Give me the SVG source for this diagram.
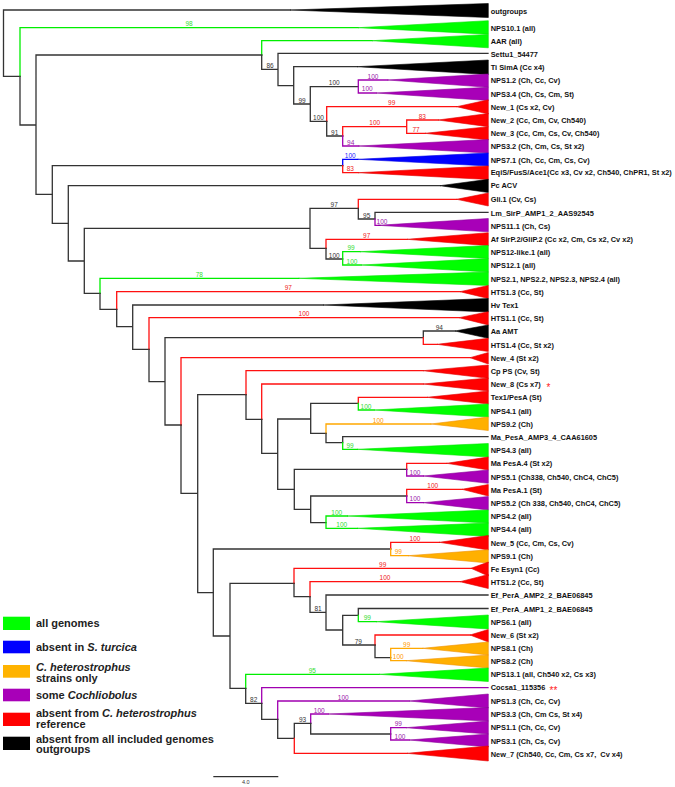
<svg xmlns="http://www.w3.org/2000/svg" width="675" height="787" viewBox="0 0 675 787">
<style>
.b{fill:none;stroke-width:1.3;stroke-linecap:square}
.k{stroke:#333}.g{stroke:#00ee00}.r{stroke:#ff1010}.p{stroke:#a000b0}.o{stroke:#ffa800}.u{stroke:#0000ff}
.tk{fill:#000;stroke:#000;stroke-width:0.6}.tg{fill:#00ff00;stroke:#00e000;stroke-width:0.6}.tr{fill:#ff0000;stroke:#e00000;stroke-width:0.6}.tp{fill:#a800b8;stroke:#8a0098;stroke-width:0.6}.to{fill:#ffb000;stroke:#f09000;stroke-width:0.6}.tu{fill:#0000ff;stroke:#0000e0;stroke-width:0.6}
.lf{font-family:"Liberation Sans",Arial,sans-serif;font-weight:bold;font-size:7.4px;fill:#111}
.bs{font-family:"Liberation Sans",Arial,sans-serif;font-size:6.5px;text-anchor:middle}
.sk{fill:#333}.sg{fill:#33dd33}.sr{fill:#ee2222}.sp{fill:#9922aa}.so{fill:#ff9900}.su{fill:#2222ff}
.lg{font-family:"Liberation Sans",Arial,sans-serif;font-weight:bold;font-size:11px;fill:#222}
</style>
<rect width="675" height="787" fill="#fff"/>
<g id="connectors">
<path class="b k" d="M3.5 43V10H290M3.5 43V76.3H20"/>
<path class="b g" d="M20 76.3V27.7H358"/>
<path class="b k" d="M20 76.3V125H36M36 125V55H261.7M36 125V194.3H52.3"/>
<path class="b g" d="M261.7 55V40.7H372"/>
<path class="b k" d="M261.7 55V69.3H278M278 69.3V53.3H488M278 69.3V85.7H293.7M293.7 85.7V66.7H357M293.7 85.7V104H310.3M310.3 104V86.7H358.3M310.3 104V121.3H326.7"/>
<path class="b p" d="M358.3 86.7V80H387.7M358.3 86.7V93H376"/>
<path class="b r" d="M326.7 121.3V106.7H456.7"/>
<path class="b k" d="M326.7 121.3V136H342.7"/>
<path class="b r" d="M342.7 136V126.7H406.7M406.7 126.7V120H438M406.7 126.7V133.3H425"/>
<path class="b p" d="M342.7 136V146H358.7"/>
<path class="b k" d="M52.3 194.3V165.7H342.7M52.3 194.3V223.3H68.3"/>
<path class="b u" d="M342.7 165.7V159.3H357.7"/>
<path class="b r" d="M342.7 165.7V172.7H358"/>
<path class="b k" d="M68.3 223.3V185.7H440M68.3 223.3V261H84.3M84.3 261V228.3H310M84.3 261V293.3H100M310 228.3V208.3H358.3M310 228.3V248.3H326"/>
<path class="b r" d="M358.3 208.3V199.3H456.7"/>
<path class="b k" d="M358.3 208.3V219H375M375 219V212.3H488"/>
<path class="b p" d="M375 219V225.3H380"/>
<path class="b r" d="M326 248.3V239.3H407"/>
<path class="b k" d="M326 248.3V259H342.7"/>
<path class="b g" d="M342.7 259V251.7H360M342.7 259V265H361M100 293.3V278.3H298.7"/>
<path class="b k" d="M100 293.3V309.3H116.7"/>
<path class="b r" d="M116.7 309.3V291.7H460"/>
<path class="b k" d="M116.7 309.3V326.7H132.7M132.7 326.7V305H323M132.7 326.7V349.3H149"/>
<path class="b r" d="M149 349.3V317.7H459"/>
<path class="b k" d="M149 349.3V381.7H165M165 381.7V337.7H423.3M423.3 337.7V331H455M165 381.7V425H181"/>
<path class="b r" d="M423.3 337.7V344.3H437M181 425V357.7H470"/>
<path class="b k" d="M181 425V493.3H197.7M197.7 493.3V394.7H246M197.7 493.3V592.7H213.3"/>
<path class="b r" d="M246 394.7V370.7H423"/>
<path class="b k" d="M246 394.7V419.3H261.7"/>
<path class="b r" d="M261.7 419.3V384H423"/>
<path class="b k" d="M261.7 419.3V453.3H277.7M277.7 453.3V419H310.7M277.7 453.3V489.3H294.3M310.7 419V403.3H358.3M310.7 419V433.3H326"/>
<path class="b r" d="M358.3 403.3V397.3H427"/>
<path class="b g" d="M358.3 403.3V410H374"/>
<path class="b o" d="M326 433.3V424H430.7"/>
<path class="b k" d="M326 433.3V442.7H342.7M342.7 442.7V436.7H488"/>
<path class="b g" d="M342.7 442.7V449.3H357.3"/>
<path class="b k" d="M294.3 489.3V469.3H406.7M294.3 489.3V509.3H310.7M310.7 509.3V496H406.7M310.7 509.3V522.7H326"/>
<path class="b r" d="M406.7 469.3V463.3H446.7M406.7 496V489.3H462"/>
<path class="b p" d="M406.7 469.3V476H423.3M406.7 496V502.7H423.3"/>
<path class="b g" d="M326 522.7V516H347.4M326 522.7V528.3H357.4"/>
<path class="b k" d="M213.3 592.7V549H390.7M213.3 592.7V636H230M230 636V583.3H294M230 636V688.3H245.7"/>
<path class="b r" d="M390.7 549V542.3H439.3"/>
<path class="b o" d="M390.7 549V555.7H408"/>
<path class="b r" d="M294 583.3V568.3H471"/>
<path class="b k" d="M294 583.3V596.7H310"/>
<path class="b r" d="M310 596.7V581.7H460"/>
<path class="b k" d="M310 596.7V612.3H326M326 612.3V595H488M326 612.3V630H342.7M342.7 630V615.3H358.3M342.7 630V645H375M358.3 615.3V608.5H488"/>
<path class="b g" d="M358.3 615.3V621.7H376.3"/>
<path class="b r" d="M375 645V635H470"/>
<path class="b k" d="M375 645V657.7H390.7"/>
<path class="b o" d="M390.7 657.7V648.3H422.7M390.7 657.7V660.7H406"/>
<path class="b g" d="M245.7 688.3V674.3H379"/>
<path class="b k" d="M245.7 688.3V703.3H261.7"/>
<path class="b p" d="M261.7 703.3V687.7H488"/>
<path class="b k" d="M261.7 703.3V719.3H277.7"/>
<path class="b p" d="M277.7 719.3V701H409"/>
<path class="b k" d="M277.7 719.3V738.3H294.3M294.3 738.3V723.3H310.7"/>
<path class="b r" d="M294.3 738.3V753.3H407"/>
<path class="b p" d="M310.7 723.3V714H328"/>
<path class="b k" d="M310.7 723.3V734H390.7"/>
<path class="b p" d="M390.7 734V727.7H406M390.7 734V740H409"/>
</g>
<g id="support">
<text class="bs sg" x="189" y="26.4">98</text>
<text class="bs sk" x="270" y="68">86</text>
<text class="bs sk" x="302" y="102.7">99</text>
<text class="bs sk" x="334.3" y="85.4">100</text>
<text class="bs sp" x="373" y="78.7">100</text>
<text class="bs sp" x="367.2" y="91.4">100</text>
<text class="bs sk" x="318.5" y="120">100</text>
<text class="bs sr" x="391.7" y="105.4">99</text>
<text class="bs sk" x="334.7" y="134.7">91</text>
<text class="bs sr" x="374.7" y="125.4">100</text>
<text class="bs sp" x="350.7" y="144.7">94</text>
<text class="bs sr" x="422.3" y="118.7">83</text>
<text class="bs sr" x="416" y="132">77</text>
<text class="bs su" x="350.2" y="158">100</text>
<text class="bs sr" x="350.3" y="171.4">83</text>
<text class="bs sk" x="334.2" y="207">97</text>
<text class="bs sk" x="366.7" y="217.7">95</text>
<text class="bs sp" x="382" y="224">100</text>
<text class="bs sr" x="366.7" y="238">97</text>
<text class="bs sk" x="334.3" y="257.7">100</text>
<text class="bs sg" x="351" y="250.4">99</text>
<text class="bs sg" x="352" y="263.7">100</text>
<text class="bs sg" x="199.3" y="277">78</text>
<text class="bs sr" x="288.3" y="290.4">97</text>
<text class="bs sr" x="304" y="316.4">100</text>
<text class="bs sk" x="439.3" y="329.7">94</text>
<text class="bs sg" x="366" y="408.7">100</text>
<text class="bs so" x="378.3" y="422.7">100</text>
<text class="bs sg" x="350" y="448">99</text>
<text class="bs sp" x="415" y="474.7">100</text>
<text class="bs sr" x="432.7" y="488">100</text>
<text class="bs sp" x="415" y="501.4">100</text>
<text class="bs sg" x="336.7" y="514.7">100</text>
<text class="bs sg" x="341.7" y="527">100</text>
<text class="bs sr" x="415" y="541">100</text>
<text class="bs so" x="398.3" y="554.4">99</text>
<text class="bs sr" x="382.7" y="567">99</text>
<text class="bs sr" x="385" y="580.4">100</text>
<text class="bs sk" x="318" y="611">81</text>
<text class="bs sg" x="367.3" y="620.4">99</text>
<text class="bs sk" x="358.3" y="643.7">79</text>
<text class="bs so" x="406.7" y="647">99</text>
<text class="bs so" x="398.3" y="659.4">100</text>
<text class="bs sg" x="312.3" y="673">95</text>
<text class="bs sk" x="253.7" y="702">82</text>
<text class="bs sp" x="343.3" y="699.7">100</text>
<text class="bs sk" x="302.5" y="722">93</text>
<text class="bs sp" x="319.3" y="712.7">100</text>
<text class="bs sp" x="398.3" y="726.4">99</text>
<text class="bs sp" x="400" y="738.7">100</text>
</g>
<g id="outgroups"><polygon class="tk" points="290,10 488.3,3.5 488.3,17.5"/><text class="lf" x="490.7" y="13.6">outgroups</text></g>
<g id="NPS10.1"><polygon class="tg" points="358,27.7 488.3,20.7 488.3,34.2"/><text class="lf" x="490.7" y="30.9">NPS10.1 (all)</text></g>
<g id="AAR"><polygon class="tg" points="372,40.7 488.3,34.4 488.3,47.8"/><text class="lf" x="490.7" y="44.3">AAR (all)</text></g>
<g id="Settu1"><text class="lf" x="490.7" y="56.6">Settu1_54477</text></g>
<g id="TiSimA"><polygon class="tk" points="357,66.7 488.3,60 488.3,74.5"/><text class="lf" x="490.7" y="69.9">Ti SimA (Cc x4)</text></g>
<g id="NPS1.2"><polygon class="tp" points="387.7,80 488.3,74 488.3,87.3"/><text class="lf" x="490.7" y="83.3">NPS1.2 (Ch, Cc, Cv)</text></g>
<g id="NPS3.4"><polygon class="tp" points="376,93 488.3,87.3 488.3,100.5"/><text class="lf" x="490.7" y="96.9">NPS3.4 (Ch, Cs, Cm, St)</text></g>
<g id="New_1"><polygon class="tr" points="456.7,106.7 488.3,99.8 488.3,114"/><text class="lf" x="490.7" y="109.9">New_1 (Cs x2, Cv)</text></g>
<g id="New_2"><polygon class="tr" points="438,120 488.3,113.5 488.3,126.7"/><text class="lf" x="490.7" y="122.6">New_2 (Cc, Cm, Cv, Ch540)</text></g>
<g id="New_3"><polygon class="tr" points="425,133.3 488.3,126.7 488.3,140"/><text class="lf" x="490.7" y="136.3">New_3 (Cc, Cm, Cs, Cv, Ch540)</text></g>
<g id="NPS3.2"><polygon class="tp" points="358.7,146 488.3,139.5 488.3,153"/><text class="lf" x="490.7" y="148.9">NPS3.2 (Ch, Cm, Cs, St x2)</text></g>
<g id="NPS7.1"><polygon class="tu" points="357.7,159.3 488.3,153 488.3,166"/><text class="lf" x="490.7" y="162.6">NPS7.1 (Ch, Cc, Cm, Cs, Cv)</text></g>
<g id="EqiS"><polygon class="tr" points="358,172.7 488.3,166 488.3,179.5"/><text class="lf" x="490.7" y="174.9">EqiS/FusS/Ace1(Cc x3, Cv x2, Ch540, ChPR1, St x2)</text></g>
<g id="PcACV"><polygon class="tk" points="440,185.7 488.3,179.3 488.3,192.5"/><text class="lf" x="490.7" y="188.3">Pc ACV</text></g>
<g id="Gli.1"><polygon class="tr" points="456.7,199.3 488.3,193 488.3,206"/><text class="lf" x="490.7" y="201.9">Gli.1 (Cv, Cs)</text></g>
<g id="Lm_SirP"><text class="lf" x="490.7" y="215.9">Lm_SirP_AMP1_2_AAS92545</text></g>
<g id="NPS11.1"><polygon class="tp" points="378,225.3 488.3,218.5 488.3,231.8"/><text class="lf" x="490.7" y="228.6">NPS11.1 (Ch, Cs)</text></g>
<g id="AfSirP"><polygon class="tr" points="407,239.3 488.3,232.7 488.3,245.7"/><text class="lf" x="490.7" y="242.3">Af SirP.2/GliP.2 (Cc x2, Cm, Cs x2, Cv x2)</text></g>
<g id="NPS12-like.1"><polygon class="tg" points="360,251.7 488.3,245.5 488.3,258.5"/><text class="lf" x="490.7" y="254.9">NPS12-like.1 (all)</text></g>
<g id="NPS12.1"><polygon class="tg" points="361,265 488.3,258.5 488.3,272"/><text class="lf" x="490.7" y="268.3">NPS12.1 (all)</text></g>
<g id="NPS2.x"><polygon class="tg" points="298.7,278.3 488.3,272 488.3,285.5"/><text class="lf" x="490.7" y="281.6">NPS2.1, NPS2.2, NPS2.3, NPS2.4 (all)</text></g>
<g id="HTS1.3"><polygon class="tr" points="460,291.7 488.3,285.5 488.3,298.5"/><text class="lf" x="490.7" y="294.6">HTS1.3 (Cc, St)</text></g>
<g id="HvTex1"><polygon class="tk" points="323,305 488.3,298.5 488.3,312"/><text class="lf" x="490.7" y="308.3">Hv Tex1</text></g>
<g id="HTS1.1"><polygon class="tr" points="459,317.7 488.3,311.7 488.3,325"/><text class="lf" x="490.7" y="321.3">HTS1.1 (Cc, St)</text></g>
<g id="AaAMT"><polygon class="tk" points="455,331 488.3,325 488.3,338.3"/><text class="lf" x="490.7" y="334.3">Aa AMT</text></g>
<g id="HTS1.4"><polygon class="tr" points="437,344.3 488.3,338.3 488.3,351.5"/><text class="lf" x="490.7" y="347.6">HTS1.4 (Cc, St x2)</text></g>
<g id="New_4"><polygon class="tr" points="470,357.7 488.3,352.5 488.3,364"/><text class="lf" x="490.7" y="360.9">New_4 (St x2)</text></g>
<g id="CpPS"><polygon class="tr" points="423,370.7 488.3,365 488.3,378.3"/><text class="lf" x="490.7" y="374.3">Cp PS (Cv, St)</text></g>
<g id="New_8"><polygon class="tr" points="423,384 488.3,378 488.3,391"/><text class="lf" x="490.7" y="387.3">New_8 (Cs x7)</text><text x="546.5" y="390.5" font-family="Liberation Sans,Arial,sans-serif" font-size="10" fill="#ff2020">*</text></g>
<g id="Tex1PesA"><polygon class="tr" points="427,397.3 488.3,391 488.3,404"/><text class="lf" x="490.7" y="400.3">Tex1/PesA (St)</text></g>
<g id="NPS4.1"><polygon class="tg" points="374,410 488.3,404 488.3,417"/><text class="lf" x="490.7" y="413.6">NPS4.1 (all)</text></g>
<g id="NPS9.2"><polygon class="to" points="430.7,424 488.3,417 488.3,430.5"/><text class="lf" x="490.7" y="426.6">NPS9.2 (Ch)</text></g>
<g id="Ma_PesA_AMP3"><text class="lf" x="490.7" y="440.3">Ma_PesA_AMP3_4_CAA61605</text></g>
<g id="NPS4.3"><polygon class="tg" points="357.3,449.3 488.3,443.5 488.3,457"/><text class="lf" x="490.7" y="453.3">NPS4.3 (all)</text></g>
<g id="MaPesA.4"><polygon class="tr" points="446.7,463.3 488.3,457 488.3,470"/><text class="lf" x="490.7" y="466.3">Ma PesA.4 (St x2)</text></g>
<g id="NPS5.1"><polygon class="tp" points="423.3,476 488.3,470 488.3,483.3"/><text class="lf" x="490.7" y="479.6">NPS5.1 (Ch338, Ch540, ChC4, ChC5)</text></g>
<g id="MaPesA.1"><polygon class="tr" points="462,489.3 488.3,484.5 488.3,496"/><text class="lf" x="490.7" y="492.6">Ma PesA.1 (St)</text></g>
<g id="NPS5.2"><polygon class="tp" points="423.3,502.7 488.3,496.5 488.3,510"/><text class="lf" x="490.7" y="505.9">NPS5.2 (Ch 338, Ch540, ChC4, ChC5)</text></g>
<g id="NPS4.2"><polygon class="tg" points="347.4,516 488.3,510 488.3,523"/><text class="lf" x="490.7" y="518.9">NPS4.2 (all)</text></g>
<g id="NPS4.4"><polygon class="tg" points="357.4,528.3 488.3,523 488.3,536.5"/><text class="lf" x="490.7" y="532.3">NPS4.4 (all)</text></g>
<g id="New_5"><polygon class="tr" points="439.3,542.3 488.3,535.5 488.3,550"/><text class="lf" x="490.7" y="545.6">New_5 (Cc, Cm, Cs, Cv)</text></g>
<g id="NPS9.1"><polygon class="to" points="408,555.7 488.3,549.8 488.3,563"/><text class="lf" x="490.7" y="558.6">NPS9.1 (Ch)</text></g>
<g id="FeEsyn1"><polygon class="tr" points="471,568.3 488.3,562 488.3,576"/><text class="lf" x="490.7" y="572.3">Fe Esyn1 (Cc)</text></g>
<g id="HTS1.2"><polygon class="tr" points="460,581.7 488.3,574.5 488.3,588.5"/><text class="lf" x="490.7" y="585.3">HTS1.2 (Cc, St)</text></g>
<g id="Ef_PerA_AMP2"><text class="lf" x="490.7" y="598.3">Ef_PerA_AMP2_2_BAE06845</text></g>
<g id="Ef_PerA_AMP1"><text class="lf" x="490.7" y="611.6">Ef_PerA_AMP1_2_BAE06845</text></g>
<g id="NPS6.1"><polygon class="tg" points="376.3,621.7 488.3,615 488.3,629"/><text class="lf" x="490.7" y="624.9">NPS6.1 (all)</text></g>
<g id="New_6"><polygon class="tr" points="470,635 488.3,629.5 488.3,642"/><text class="lf" x="490.7" y="637.9">New_6 (St x2)</text></g>
<g id="NPS8.1"><polygon class="to" points="422.7,648.3 488.3,642 488.3,655"/><text class="lf" x="490.7" y="651.3">NPS8.1 (Ch)</text></g>
<g id="NPS8.2"><polygon class="to" points="406,660.7 488.3,655 488.3,668"/><text class="lf" x="490.7" y="664.3">NPS8.2 (Ch)</text></g>
<g id="NPS13.1"><polygon class="tg" points="379,674.3 488.3,668 488.3,681.5"/><text class="lf" x="490.7" y="677.3">NPS13.1 (all, Ch540 x2, Cs x3)</text></g>
<g id="Cocsa1"><text class="lf" x="490.7" y="689.9">Cocsa1_115356</text><text x="549.5" y="693.5" font-family="Liberation Sans,Arial,sans-serif" font-size="10" fill="#ff2020">**</text></g>
<g id="NPS1.3"><polygon class="tp" points="409,701 488.3,694 488.3,708"/><text class="lf" x="490.7" y="703.9">NPS1.3 (Ch, Cc, Cv)</text></g>
<g id="NPS3.3"><polygon class="tp" points="328,714 488.3,707.5 488.3,721"/><text class="lf" x="490.7" y="717.3">NPS3.3 (Ch, Cm Cs, St x4)</text></g>
<g id="NPS1.1"><polygon class="tp" points="406,727.7 488.3,721 488.3,734"/><text class="lf" x="490.7" y="730.3">NPS1.1 (Ch, Cc, Cv)</text></g>
<g id="NPS3.1"><polygon class="tp" points="409,740 488.3,734 488.3,747"/><text class="lf" x="490.7" y="743.6">NPS3.1 (Ch, Cs, Cv)</text></g>
<g id="New_7"><polygon class="tr" points="407,753.3 488.3,746 488.3,761"/><text class="lf" x="490.7" y="756.9" xml:space="preserve">New_7 (Ch540, Cc, Cm, Cs x7,  Cv x4)</text></g>
<g id="legend">
<rect x="3" y="616.7" width="27" height="13.3" fill="#00ff00"/>
<rect x="3" y="640.7" width="27" height="12.6" fill="#0000ff"/>
<rect x="3" y="665" width="27" height="12.7" fill="#ffb300"/>
<rect x="3" y="688.7" width="27" height="12.6" fill="#a800b8"/>
<rect x="3" y="712.7" width="27" height="13.3" fill="#ff0000"/>
<rect x="3" y="736.7" width="27" height="13.3" fill="#000"/>
<text class="lg" x="36" y="626.5">all genomes</text>
<text class="lg" x="36" y="650.5">absent in <tspan font-style="italic">S. turcica</tspan></text>
<text class="lg" x="36" y="670.5" font-style="italic">C. heterostrophus</text>
<text class="lg" x="36" y="681.8">strains only</text>
<text class="lg" x="36" y="698.5">some <tspan font-style="italic">Cochliobolus</tspan></text>
<text class="lg" x="36" y="717.1">absent from <tspan font-style="italic">C. heterostrophus</tspan></text>
<text class="lg" x="36" y="728.1">reference</text>
<text class="lg" x="36" y="742.5">absent from all included genomes</text>
<text class="lg" x="36" y="753.1">outgroups</text>
</g>
<g id="scale">
<line x1="213.3" y1="776.7" x2="278.3" y2="776.7" stroke="#000" stroke-width="1"/>
<text x="245.8" y="784" font-family="Liberation Sans,Arial,sans-serif" font-size="5.5" text-anchor="middle" fill="#333">4.0</text>
</g>
</svg>
